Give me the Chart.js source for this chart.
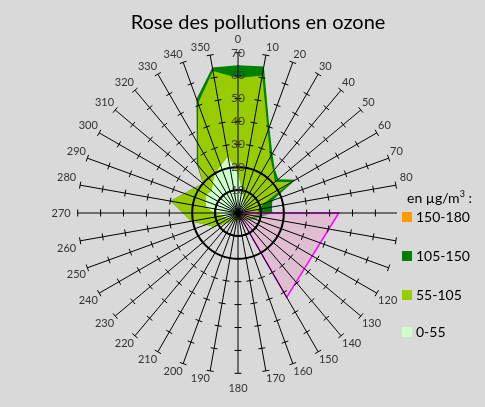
<!DOCTYPE html>
<html>
<head>
<meta charset="utf-8">
<script src="https://cdn.jsdelivr.net/npm/chart.js@4.4.0/dist/chart.umd.min.js"></script>
<style>
  body { margin: 0; background: #ffffff; }
  #cadre { position: relative; width: 485px; height: 407px; background: #d9d9d9; overflow: hidden; }
  #graphe { position: absolute; left: 0; top: 0; }
  #titre { position: absolute; left: 258px; top: 9px; transform: translateX(-50%); white-space: nowrap;
           font-family: Lato, sans-serif; font-size: 20px; color: #000; }
  #boiteLegende { position: absolute; left: 397px; top: 190px; width: 88px; height: 155px; background: #d9d9d9; }
  .leg { position: absolute; font-family: Lato, sans-serif; font-size: 14px; color: #000; white-space: nowrap; }
  .carre { position: absolute; width: 10px; height: 10px; }
</style>
</head>
<body>
<div id="cadre">
  <canvas id="graphe" width="485" height="407"></canvas>
  <div id="titre">Rose des pollutions en ozone</div>
  <div id="boiteLegende"></div>
</div>
<script>
// directions du vent (degrés)
const directions = ["0","10","20","30","40","50","60","70","80","90","100","110","120","130","140","150","160","170",
  "180","190","200","210","220","230","240","250","260","270","280","290","300","310","320","330","340","350"];

// fréquences par classe de concentration
const classe150_180 = [0,0,0,0,0,0,0,0,0,0,0,0,0,0,0,0,0,0,0,0,0,0,0,0,0,0,0,0,0,0,0,0,0,0,0,0];
const classe105_150 = [64.5,65,40,30,25,23,29,16,15,15,10,8,6,5,4,3,3,3,3,3,3,4,5,7,12,15,21,24,30,25,22,20,28,36,53,64.5];
const classe55_105  = [59,61,38,28,24,21,27,12,9,9,7,6,5,4,3,3,2.5,2.5,2.5,2.5,3,4,5,7,12,15,21,24,30,25,22,20,27,35,51,63];
const classe0_55    = [17,10,7,5,4,4,4,3,3,3,2,2,2,2,2,2,2,2,2,2,2,2,2,2,5,6,7,10,14,15,16,15,17,20,22,25];
// secteur surligné en rose
const secteur = [0,0,0,0,0,0,0,0,0,44,null,null,null,null,null,42.5,0,0,0,0,0,0,0,0,0,0,0,0,0,0,0,0,0,0,0,0];

const graduations = [0,10,20,30,40,50,60,70];

const legendeItems = [
  { texte: "150-180", couleur: "#ff9900" },
  { texte: "105-150", couleur: "#008000" },
  { texte: "55-105",  couleur: "#99cc00" },
  { texte: "0-55",    couleur: "#ccffcc" }
];

// petits traits de graduation sur chaque rayon
const traitsRayons = {
  id: "traitsRayons",
  afterDatasetsDraw(chart) {
    const sc = chart.scales.r;
    const c = chart.ctx;
    c.save();
    c.strokeStyle = "#000";
    c.lineWidth = 1;
    for (let i = 0; i < directions.length; i++) {
      const a = sc.getIndexAngle(i);
      const px = Math.cos(a), py = Math.sin(a);
      graduations.forEach(v => {
        if (v === 0) return;
        const p = sc.getPointPositionForValue(i, v);
        c.beginPath();
        c.moveTo(p.x - px * 3.5, p.y - py * 3.5);
        c.lineTo(p.x + px * 3.5, p.y + py * 3.5);
        c.stroke();
      });
    }
    c.restore();
  }
};

// écart entre bout du rayon et libellé (Chart.js ajoute déjà 8 px)
function ecartLibelle(c) {
  const i = c.index;
  let g = 1.5;
  if (i === 18) g = 8.5;
  else if (i % 9 === 0) g = 7;
  else if (i === 8 || i === 10 || i === 26 || i === 28) g = 4;
  return g - 8;
}

const ctx = document.getElementById("graphe").getContext("2d");
const chart = new Chart(ctx, {
  type: "radar",
  data: {
    labels: directions,
    datasets: [
      { label: "secteur", data: secteur, spanGaps: true, fill: true, order: 0,
        borderColor: "#ff00ff", borderWidth: 1.5, backgroundColor: "rgba(227,163,199,0.5)" },
      { label: "0-55", data: classe0_55, fill: true, order: 1,
        borderColor: "rgba(0,0,0,0)", backgroundColor: "#ccffcc" },
      { label: "55-105", data: classe55_105, fill: true, order: 2,
        borderColor: "rgba(0,0,0,0)", backgroundColor: "#99cc00" },
      { label: "105-150", data: classe105_150, fill: true, order: 3,
        borderColor: "rgba(0,0,0,0)", backgroundColor: "#008000" },
      { label: "150-180", data: classe150_180, fill: true, order: 4,
        borderColor: "rgba(0,0,0,0)", backgroundColor: "#ff9900" }
    ]
  },
  options: {
    responsive: false,
    animation: false,
    layout: { padding: { top: 32, bottom: 11, left: 10, right: 19 } },
    elements: { point: { radius: 0, hoverRadius: 0 }, line: { tension: 0 } },
    plugins: { legend: { display: false }, tooltip: { enabled: false } },
    scales: {
      r: {
        min: 0,
        max: 70,
        ticks: { z: 1, stepSize: 10, showLabelBackdrop: false, color: "#404040",
                 font: { family: "Lato", size: 12 } },
        grid: {
          z: 1,
          circular: true,
          lineWidth: 2,
          color: c => (c.tick && (c.tick.value === 10 || c.tick.value === 20)) ? "#000" : "rgba(0,0,0,0)"
        },
        angleLines: { color: "#000", lineWidth: 1 },
        pointLabels: {
          // 110 est caché par la légende dans l'original
          color: c => c.index === 11 ? "rgba(0,0,0,0)" : "#333",
          padding: ecartLibelle,
          font: { family: "Lato", size: 11 }
        }
      }
    }
  },
  plugins: [traitsRayons]
});

// légende à droite
const leg = document.getElementById("boiteLegende");
const t = document.createElement("div");
t.className = "leg";
t.style.left = "10px";
t.style.top = "-2px";
t.innerHTML = "en µg/m<sup style='font-size:9px'>3</sup> :";
leg.appendChild(t);
const posY = [217, 256, 295, 332];
legendeItems.forEach((it, k) => {
  const sq = document.createElement("div");
  sq.className = "carre";
  sq.style.left = "5px";
  sq.style.top = (posY[k] - 5 - 190) + "px";
  sq.style.background = it.couleur;
  leg.appendChild(sq);
  const lb = document.createElement("div");
  lb.className = "leg";
  lb.style.left = "19px";
  lb.style.top = (posY[k] - 9 - 190) + "px";
  lb.textContent = it.texte;
  leg.appendChild(lb);
});
</script>
</body>
</html>
